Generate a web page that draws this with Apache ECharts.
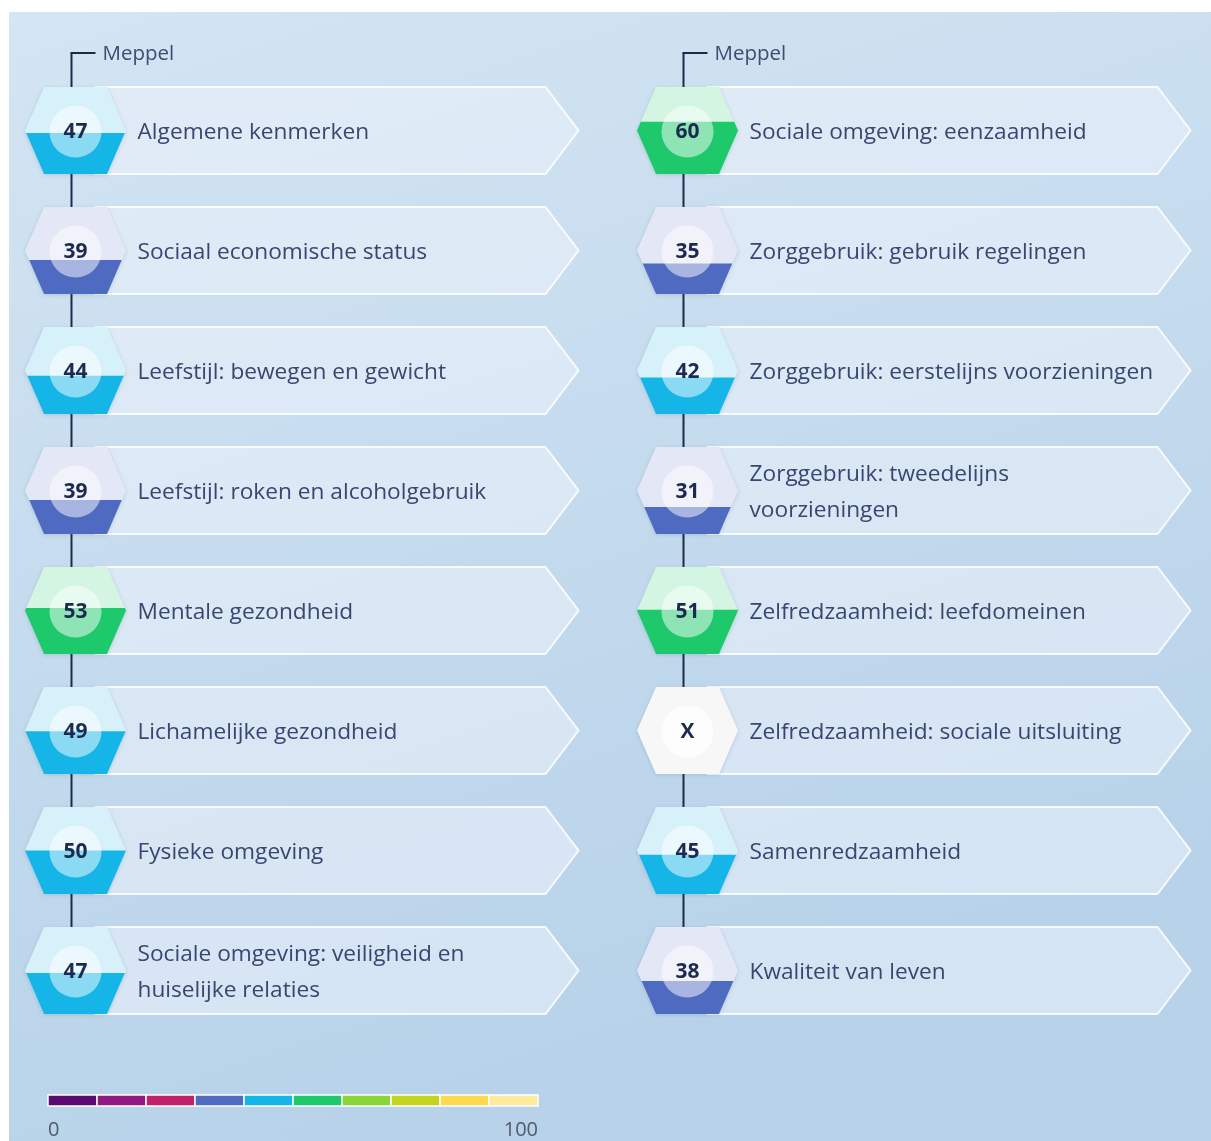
<!DOCTYPE html>
<html>
<head>
<meta charset="utf-8">
<script src="https://cdn.jsdelivr.net/npm/echarts@6/dist/echarts.min.js"></script>
<style>
html,body{margin:0;padding:0;background:#fff;}
#chart{width:1211px;height:1141px;}
</style>
</head>
<body>
<div id="chart"></div>
<script>
// ---- data ----
const headerLabel = 'Meppel';
const leftCategories = [
  'Algemene kenmerken',
  'Sociaal economische status',
  'Leefstijl: bewegen en gewicht',
  'Leefstijl: roken en alcoholgebruik',
  'Mentale gezondheid',
  'Lichamelijke gezondheid',
  'Fysieke omgeving',
  'Sociale omgeving: veiligheid en\nhuiselijke relaties'
];
const leftValues = [47, 39, 44, 39, 53, 49, 50, 47];
const rightCategories = [
  'Sociale omgeving: eenzaamheid',
  'Zorggebruik: gebruik regelingen',
  'Zorggebruik: eerstelijns voorzieningen',
  'Zorggebruik: tweedelijns\nvoorzieningen',
  'Zelfredzaamheid: leefdomeinen',
  'Zelfredzaamheid: sociale uitsluiting',
  'Samenredzaamheid',
  'Kwaliteit van leven'
];
const rightValues = [60, 35, 42, 31, 51, null, 45, 38];
const scaleColors = ['#5b0a72', '#901a82', '#c0226a', '#4f6bc1', '#16b5e8', '#1ec96b', '#8ad63a', '#c4d41e', '#ffd94d', '#ffe99c'];
const scaleLight  = ['#e2d3e7', '#ecd4ea', '#f4d6e3', '#e4e7f5', '#d7f1fb', '#d3f5e1', '#e6f6d6', '#f3f5d2', '#fff6d8', '#fffaea'];
const legendStops = [0, 10, 20, 30, 40, 50, 60, 70, 80, 90, 100];
const legendTickLabels = ['0', '100'];

// ---- build items ----
const items = [];
leftCategories.forEach((c, i) => items.push({ col: 0, row: i, name: c, v: leftValues[i] }));
rightCategories.forEach((c, i) => items.push({ col: 1, row: i, name: c, v: rightValues[i] }));
const rowsPerCol = leftCategories.length;

function colorIndex(v) { return Math.max(0, Math.min(9, Math.ceil(v / 10) - 1)); }

const HW = 50.5, TW = 31.5, HH = 43.5;
function halfWidthAt(dy) { return HW - Math.abs(dy) / HH * (HW - TW); }

function renderRow(params, api) {
  const it = items[params.dataIndex];
  const p = api.coord([api.value(0), api.value(1)]);
  const cx = p[0], cy = p[1];
  const children = [];
  const lineX = cx - 4;
  const lineStyle = { stroke: '#1d2b4b', lineWidth: 2 };
  if (it.row < rowsPerCol - 1) {
    const q = api.coord([api.value(0), api.value(1) + 1]);
    children.push({ type: 'line', shape: { x1: lineX, y1: cy, x2: lineX, y2: q[1] }, style: lineStyle });
  }
  if (it.row === 0) {
    const topY = cy - HH - 34;
    children.push({ type: 'line', shape: { x1: lineX, y1: topY, x2: lineX, y2: cy }, style: lineStyle });
    children.push({ type: 'line', shape: { x1: lineX - 1, y1: topY, x2: lineX + 24, y2: topY }, style: lineStyle });
    children.push({ type: 'text', style: { x: lineX + 31, y: topY + 1, text: headerLabel, fill: '#3d4c70', font: '20.5px "Open Sans"', textVerticalAlign: 'middle' } });
  }
  children.push({
    type: 'polygon',
    shape: { points: [[cx + 20, cy - HH], [cx + 470, cy - HH], [cx + 503, cy], [cx + 470, cy + HH], [cx + 20, cy + HH]] },
    style: { fill: 'rgba(236,243,251,0.55)', stroke: 'rgba(255,255,255,0.85)', lineWidth: 2 }
  });
  const hex = [[cx - HW, cy], [cx - TW, cy - HH], [cx + TW, cy - HH], [cx + HW, cy], [cx + TW, cy + HH], [cx - TW, cy + HH]];
  const hasVal = it.v !== null && it.v !== undefined;
  const ci = hasVal ? colorIndex(it.v) : -1;
  children.push({
    type: 'polygon', shape: { points: hex },
    style: { fill: hasVal ? scaleLight[ci] : '#f7f7f7', shadowBlur: 4, shadowColor: 'rgba(40,70,110,0.18)', shadowOffsetY: 1 }
  });
  if (hasVal) {
    const L = cy + HH - it.v / 100 * (2 * HH);
    const w = halfWidthAt(L - cy);
    let pts;
    if (L >= cy) {
      pts = [[cx - w, L], [cx + w, L], [cx + TW, cy + HH], [cx - TW, cy + HH]];
    } else {
      pts = [[cx - w, L], [cx + w, L], [cx + HW, cy], [cx + TW, cy + HH], [cx - TW, cy + HH], [cx - HW, cy]];
    }
    children.push({ type: 'polygon', shape: { points: pts }, style: { fill: scaleColors[ci] } });
  }
  children.push({ type: 'circle', shape: { cx: cx, cy: cy + 1, r: 26 }, style: { fill: hasVal ? 'rgba(255,255,255,0.5)' : 'rgba(255,255,255,0.7)' } });
  children.push({
    type: 'text',
    style: { x: cx, y: cy + 2, text: hasVal ? String(it.v) : 'X', fill: '#1b2a4e', font: 'bold 21px "Open Sans"', textAlign: 'center', textVerticalAlign: 'middle' }
  });
  children.push({
    type: 'text',
    style: { x: cx + 62, y: cy + 2, text: it.name, fill: '#3a4670', font: '22.7px "Open Sans"', lineHeight: 36, textVerticalAlign: 'middle' }
  });
  return { type: 'group', children: children };
}

function renderLegend(params, api) {
  const a = api.coord([api.value(0), 0.5]);
  const b = api.coord([api.value(1), 0.5]);
  const h = api.size([0, 1])[1];
  return {
    type: 'rect',
    shape: { x: a[0], y: a[1] - h / 2, width: b[0] - a[0], height: h },
    style: { fill: scaleColors[params.dataIndex], stroke: '#ffffff', lineWidth: 1.5 }
  };
}

const legendData = [];
for (let i = 0; i < legendStops.length - 1; i++) legendData.push([legendStops[i], legendStops[i + 1]]);

const chart = echarts.init(document.getElementById('chart'), null, { renderer: 'canvas' });
chart.setOption({
  backgroundColor: '#ffffff',
  animation: false,
  graphic: [{
    type: 'rect', z: -10, silent: true,
    shape: { x: 9, y: 12, width: 1202, height: 1129 },
    style: { fill: new echarts.graphic.LinearGradient(0, 0, 0.3, 1, [{ offset: 0, color: '#d4e5f3' }, { offset: 1, color: '#b7d2e9' }]) }
  }],
  grid: [
    { left: 75.5, top: 130.5, width: 612, height: 840 },
    { left: 48, top: 1095, width: 490, height: 11 }
  ],
  xAxis: [
    { gridIndex: 0, type: 'value', min: 0, max: 1, show: false },
    {
      gridIndex: 1, type: 'value', min: 0, max: 100, interval: 100,
      axisLine: { show: false }, axisTick: { show: false }, splitLine: { show: false },
      axisLabel: {
        show: true, margin: 14, color: '#4f5a6a', fontSize: 20, fontFamily: 'Open Sans',
        alignMinLabel: 'left', alignMaxLabel: 'right',
        formatter: function (v) { return v === 0 ? legendTickLabels[0] : legendTickLabels[1]; }
      }
    }
  ],
  yAxis: [
    { gridIndex: 0, type: 'value', min: 0, max: 7, inverse: true, show: false },
    { gridIndex: 1, type: 'value', min: 0, max: 1, show: false }
  ],
  series: [
    {
      type: 'custom', xAxisIndex: 0, yAxisIndex: 0, clip: false,
      renderItem: renderRow,
      data: items.map(it => [it.col, it.row])
    },
    {
      type: 'custom', xAxisIndex: 1, yAxisIndex: 1, clip: false,
      renderItem: renderLegend,
      data: legendData
    }
  ]
});
</script>
</body>
</html>
